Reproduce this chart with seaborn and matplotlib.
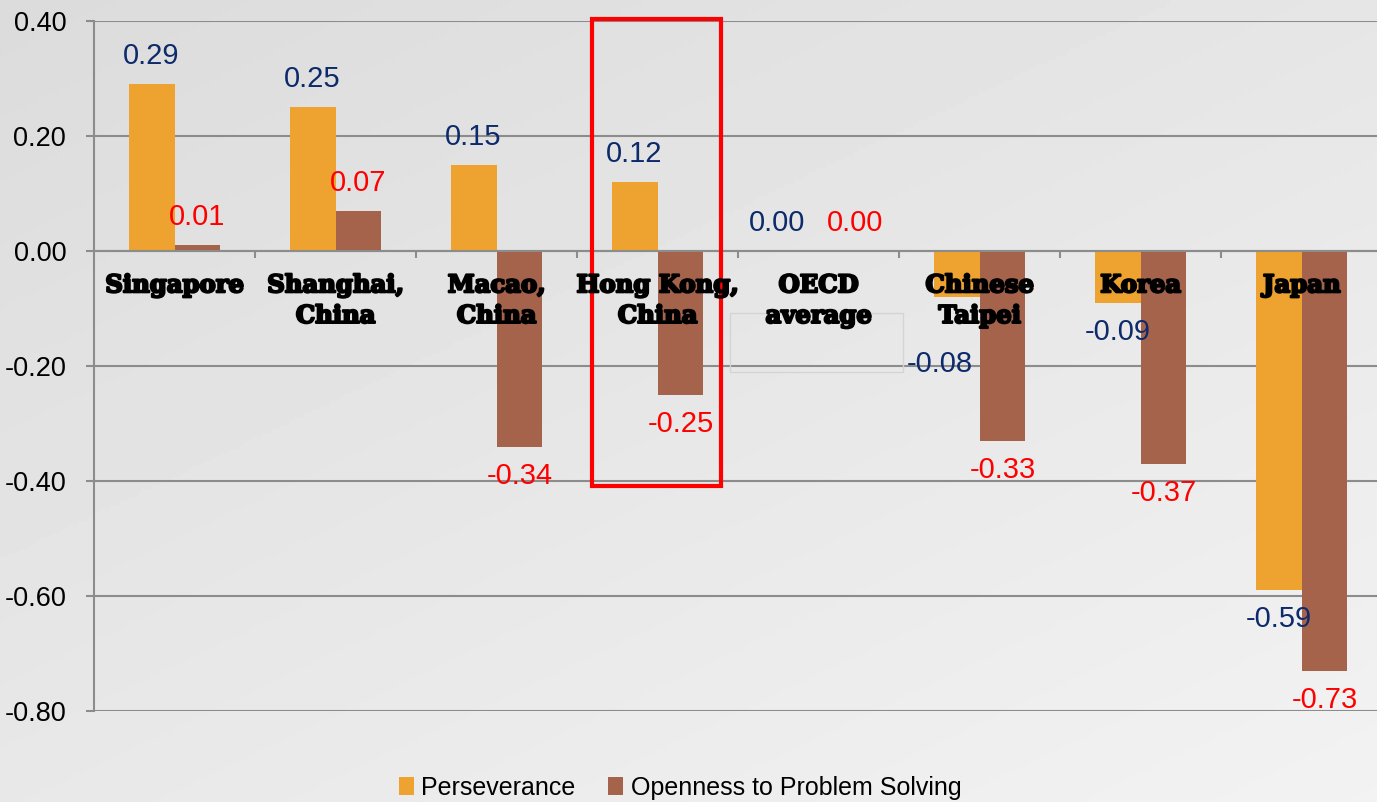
import numpy as np
import pandas as pd
import seaborn as sns
import matplotlib.pyplot as plt
import matplotlib.patheffects as pe
from matplotlib.patches import Rectangle

categories = ['Singapore', 'Shanghai,\nChina', 'Macao,\nChina', 'Hong Kong,\nChina',
              'OECD\naverage', 'Chinese\nTaipei', 'Korea', 'Japan']
perseverance = [0.29, 0.25, 0.15, 0.12, 0.00, -0.08, -0.09, -0.59]
openness = [0.01, 0.07, -0.34, -0.25, 0.00, -0.33, -0.37, -0.73]
series = ['Perseverance', 'Openness to Problem Solving']
yticks = [0.40, 0.20, 0.00, -0.20, -0.40, -0.60, -0.80]

df = pd.DataFrame({
    'country': categories * 2,
    'series': [series[0]] * len(categories) + [series[1]] * len(categories),
    'value': perseverance + openness,
})

bar_colors = ['#EEA22F', '#A5634C']
label_colors = ['#0D2A6B', '#FF0000']
grid_col = '#8C8C8C'

fig = plt.figure(figsize=(13.77, 8.02), dpi=100)

# background gradient
bg = fig.add_axes([0, 0, 1, 1], zorder=-10)
xx, yy = np.meshgrid(np.linspace(0, 1, 300), np.linspace(0, 1, 200))
grad = 0.86 + 0.09 * (0.45 * xx + 0.55 * yy)
bg.imshow(grad, cmap='gray', vmin=0, vmax=1, aspect='auto', extent=[0, 1, 0, 1], origin='upper')
bg.axis('off')

ax = fig.add_axes([94 / 1377, 91 / 802, 1288 / 1377, 690 / 802])
ax.set_facecolor('none')

sns.barplot(data=df, x='country', y='value', hue='series', order=categories,
            hue_order=series, palette=bar_colors, saturation=1, width=0.57,
            linewidth=0, ax=ax, zorder=2)

ax.set_xlim(-0.5, 7.5)
ax.set_ylim(-0.8, 0.4)
ax.set_yticks(yticks)
ax.set_yticklabels([f'{t:.2f}' for t in yticks], fontsize=19.5, family='Liberation Sans')
ax.tick_params(axis='y', length=6, width=1.5, color=grid_col, pad=14)
ax.set_xlabel('')
ax.set_ylabel('')
ax.set_xticks(range(len(categories)))
ax.set_xticklabels([])
ax.tick_params(axis='x', which='major', length=0)
ax.set_xticks([i + 0.5 for i in range(len(categories))], minor=True)
ax.tick_params(axis='x', which='minor', length=5, width=1.5, color=grid_col, direction='out')

ax.yaxis.grid(True, color=grid_col, lw=1.5, zorder=0)
ax.set_axisbelow(True)
for s in ['top', 'right']:
    ax.spines[s].set_visible(False)
ax.spines['left'].set_color(grid_col)
ax.spines['left'].set_linewidth(1.5)
ax.spines['bottom'].set_position(('data', 0))
ax.spines['bottom'].set_color(grid_col)
ax.spines['bottom'].set_linewidth(1.5)

# category labels on top of bars (heavy slab look)
heavy = [pe.withStroke(linewidth=1.6, foreground='black')]
for i, c in enumerate(categories):
    ax.annotate(c, xy=(i, 0), xytext=(0, -16), textcoords='offset points',
                ha='center', va='top', fontsize=17.5, fontweight='bold',
                family='DejaVu Serif', linespacing=1.35, zorder=6, path_effects=heavy)

# value labels
nudges = {(0, 5): (-12, -27), (0, 4): (-13, 0), (1, 4): (10, 0)}
values = [perseverance, openness]
for k, cont in enumerate(ax.containers):
    for i, bar in enumerate(cont):
        val = values[k][i]
        xc = bar.get_x() + bar.get_width() / 2
        dy = 20 if val >= 0 else -21
        dx, ddy = nudges.get((k, i), (0, 0))
        ax.annotate(f'{val:.2f}', xy=(xc, val), xytext=(dx, dy + ddy),
                    textcoords='offset points', ha='center', va='center',
                    fontsize=21, color=label_colors[k], family='Liberation Sans', zorder=6)

# highlight box
ax.add_patch(Rectangle((2.593, -0.409), 0.8, 0.8125, fill=False, edgecolor='#FF0000',
                       lw=3, clip_on=False, zorder=5))
ax.add_patch(Rectangle((3.45, -0.21), 1.075, 0.102, fill=False, edgecolor='#D4D4D4',
                       lw=1, clip_on=False, zorder=1))

handles, labels = ax.get_legend_handles_labels()
ax.legend_.remove()
fig.legend(handles, labels, loc='center', bbox_to_anchor=(680 / 1377, 14 / 802), ncol=2,
           frameon=False, handlelength=0.6, handleheight=0.75, handletextpad=0.3,
           columnspacing=1.3, prop={'family': 'Liberation Sans', 'size': 18})

fig.savefig('out.png', dpi=100)
